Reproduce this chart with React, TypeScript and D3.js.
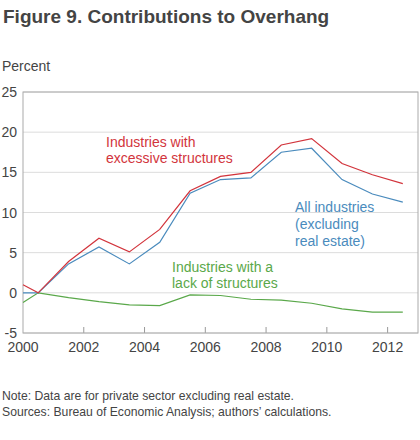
import React from "react";
import * as d3 from "d3";

const years = [2000, 2000.5, 2001.5, 2002.5, 2003.5, 2004.5, 2005.5, 2006.5, 2007.5, 2008.5, 2009.5, 2010.5, 2011.5, 2012.5];
const excessive = [1.0, 0, 3.9, 6.8, 5.1, 7.9, 12.7, 14.5, 15.0, 18.4, 19.2, 16.1, 14.7, 13.6];
const allIndustries = [0, 0, 3.6, 5.7, 3.6, 6.3, 12.4, 14.1, 14.3, 17.5, 18.0, 14.1, 12.3, 11.3];
const lack = [-1.2, 0, -0.6, -1.1, -1.5, -1.6, -0.25, -0.33, -0.8, -0.9, -1.3, -2.0, -2.4, -2.4];
const xTicks = [2000, 2002, 2004, 2006, 2008, 2010, 2012];
const yTicks = [-5, 0, 5, 10, 15, 20, 25];

const RED = "#d2343c";
const BLUE = "#4a8bbd";
const GREEN = "#5aa84a";
const TEXT = "#444";
const FONT = "Liberation Sans, Arial, sans-serif";

export default function App() {
  const left = 23, right = 418, top = 92, bottom = 333;
  const x = d3.scaleLinear().domain([2000, 2013]).range([left, right]);
  const y = d3.scaleLinear().domain([-5, 25]).range([bottom, top]);
  const line = (vals: number[]) =>
    d3.line<number>().x((_, i) => x(years[i])).y((v) => y(v))(vals) || "";

  return (
    <svg width={420} height={440} style={{ position: "absolute", left: 0, top: 0, background: "#fff" }} fontFamily={FONT}>
      <text x={3} y={23} fontSize={19} fontWeight="bold" fill={TEXT}>Figure 9. Contributions to Overhang</text>
      <text x={2} y={71} fontSize={14} fill={TEXT}>Percent</text>
      {yTicks.map((t) => (
        <g key={t}>
          <line x1={left} x2={right} y1={y(t)} y2={y(t)} stroke="#dcdcdc" strokeWidth={1} />
          <text x={17} y={y(t) + 5} fontSize={14} textAnchor="end" fill={TEXT}>{t}</text>
        </g>
      ))}
      {xTicks.map((t) => (
        <g key={t}>
          {t > 2000 && <line x1={x(t)} x2={x(t)} y1={bottom} y2={bottom - 6} stroke="#999" />}
          <text x={x(t)} y={352} fontSize={14} textAnchor="middle" fill={TEXT}>{t}</text>
        </g>
      ))}
      <rect x={left} y={top} width={right - left} height={bottom - top} fill="none" stroke="#aaa" strokeWidth={1} />
      <path d={line(lack)} fill="none" stroke={GREEN} strokeWidth={1.2} />
      <path d={line(allIndustries)} fill="none" stroke={BLUE} strokeWidth={1.2} />
      <path d={line(excessive)} fill="none" stroke={RED} strokeWidth={1.2} />
      <text fontSize={14} fill={RED}>
        <tspan x={106} y={147}>Industries with</tspan>
        <tspan x={106} y={163}>excessive structures</tspan>
      </text>
      <text fontSize={14} fill={BLUE}>
        <tspan x={295} y={212}>All industries</tspan>
        <tspan x={295} y={229}>(excluding</tspan>
        <tspan x={295} y={246}>real estate)</tspan>
      </text>
      <text fontSize={14} fill={GREEN}>
        <tspan x={172} y={272}>Industries with a</tspan>
        <tspan x={172} y={288}>lack of structures</tspan>
      </text>
      <text fontSize={12.2} fill={TEXT}>
        <tspan x={2} y={400}>Note: Data are for private sector excluding real estate.</tspan>
        <tspan x={2} y={416}>Sources: Bureau of Economic Analysis; authors’ calculations.</tspan>
      </text>
    </svg>
  );
}
